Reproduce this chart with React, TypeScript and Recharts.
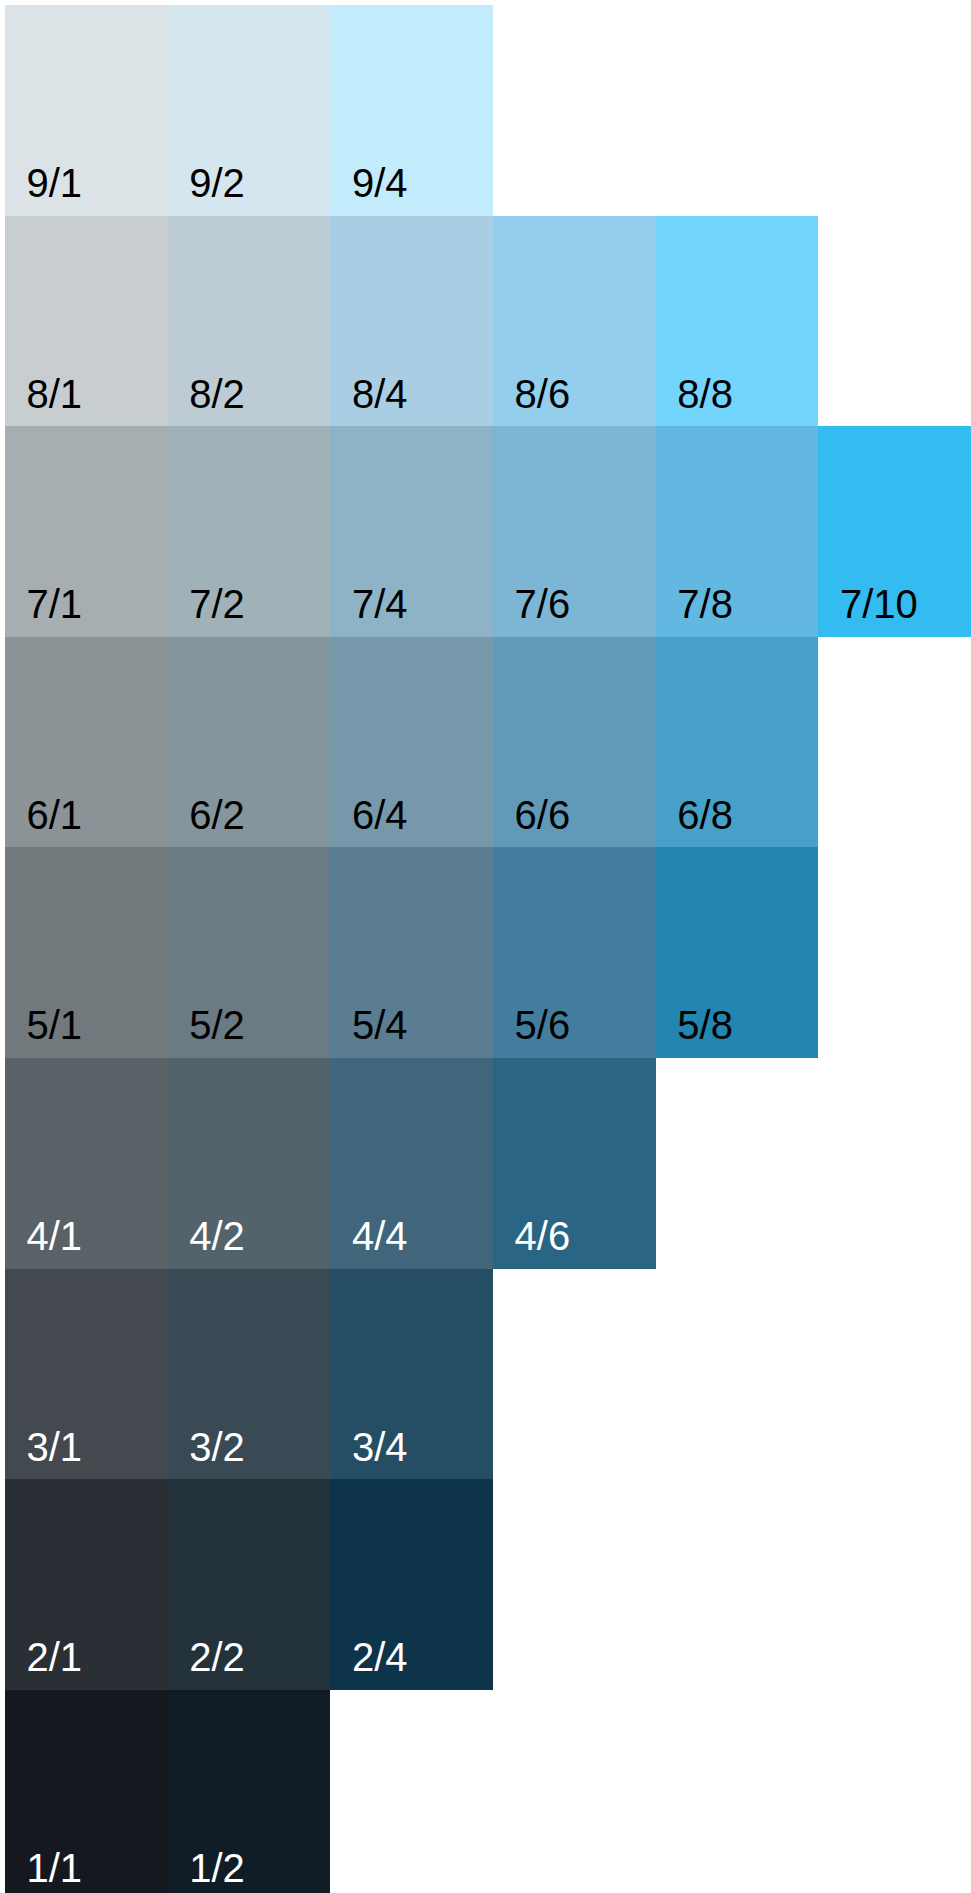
import { ComposedChart, XAxis, YAxis, ReferenceArea } from 'recharts'

// munsell value (rows, light to dark) and chroma steps (columns)
const values = [9, 8, 7, 6, 5, 4, 3, 2, 1]
const chromas = [1, 2, 4, 6, 8, 10]

// swatch colours, one list per value row, in chroma order
const value9 = ['#dce3e6', '#d5e6ee', '#c2ebfb']
const value8 = ['#c8cdd0', '#bdccd4', '#a9cde2', '#93cfec', '#73d5fe']
const value7 = ['#a6aeb1', '#a0b1b8', '#8eb3c7', '#7db5d4', '#63b8e1', '#34bcf0']
const value6 = ['#8c9396', '#85959d', '#7798ab', '#619ab9', '#47a0c8']
const value5 = ['#72797d', '#6b7b83', '#5b7d92', '#437e9e', '#2385b0']
const value4 = ['#5a6167', '#53636c', '#41657b', '#2a6684']
const value3 = ['#43494e', '#394a54', '#254d64']
const value2 = ['#292f34', '#23323b', '#0e344a']
const value1 = ['#15191f', '#101c26']

const rows = [value9, value8, value7, value6, value5, value4, value3, value2, value1]

const cells = values.flatMap((v, r) =>
  rows[r].map((color, c) => ({ value: v, chroma: chromas[c], col: c, color })),
)

const CELL_W = 162.7
const CELL_H = 210.6

function SwatchLabel({ viewBox, text, dark }: any) {
  const { x, y, height } = viewBox
  return (
    <text
      x={x + 21.5}
      y={y + height - 18.5}
      fill={dark ? '#ffffff' : '#000000'}
      fontSize={40}
      fontFamily="'Liberation Sans', Arial, sans-serif"
    >
      {text}
    </text>
  )
}

export default function App() {
  return (
    <div
      style={{
        position: 'fixed',
        left: 0,
        top: 0,
        width: 971,
        height: 1893,
        overflow: 'hidden',
        background: '#ffffff',
      }}
    >
      <ComposedChart
        width={5 + CELL_W * chromas.length}
        height={5 + CELL_H * values.length}
        data={cells}
        margin={{ top: 5, left: 5, right: 0, bottom: 0 }}
      >
        <XAxis type="number" dataKey="col" domain={[0, chromas.length]} hide />
        <YAxis type="number" dataKey="value" domain={[0, values.length]} hide />
        {cells.map((d) => (
          <ReferenceArea
            key={`${d.value}/${d.chroma}`}
            x1={d.col}
            x2={d.col + 1}
            y1={d.value - 1}
            y2={d.value}
            fill={d.color}
            fillOpacity={1}
            stroke="none"
            shapeRendering="crispEdges"
            ifOverflow="visible"
            label={<SwatchLabel text={`${d.value}/${d.chroma}`} dark={d.value <= 4} />}
          />
        ))}
      </ComposedChart>
    </div>
  )
}
